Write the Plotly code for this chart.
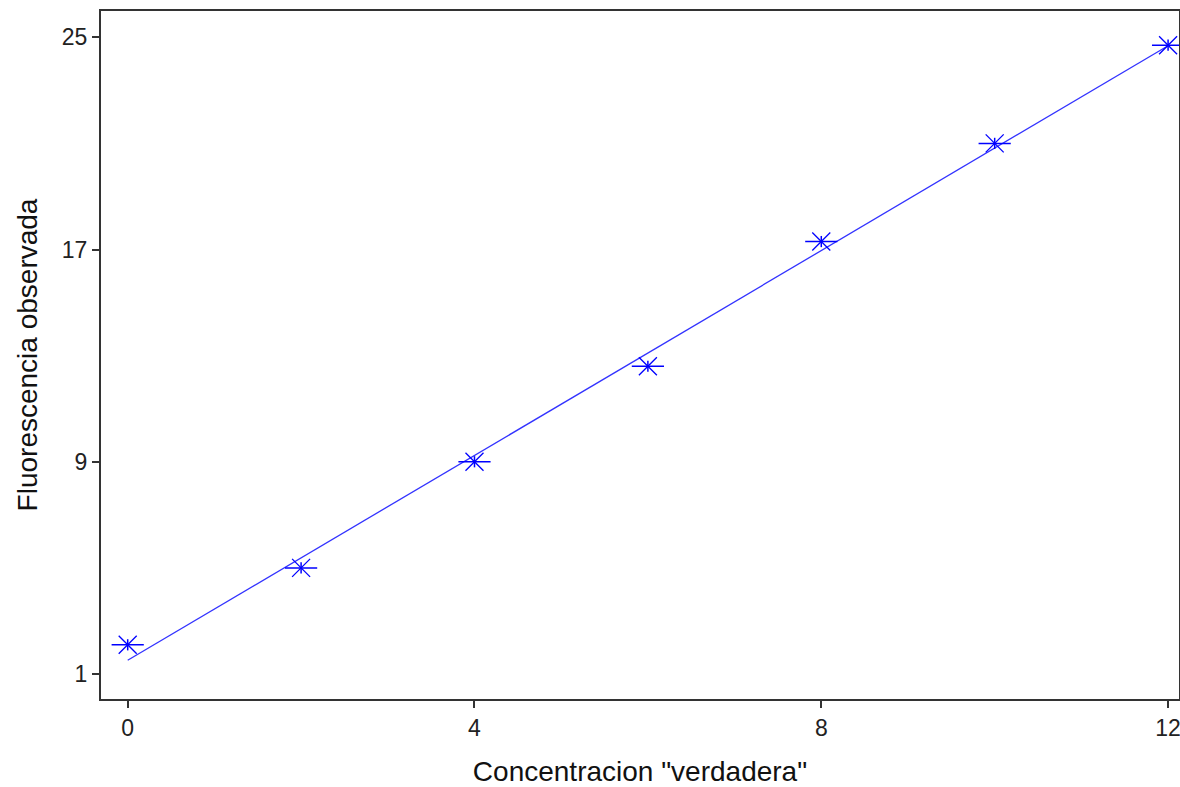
import numpy as np
import plotly.graph_objects as go

concentracion = [0, 2, 4, 6, 8, 10, 12]
fluorescencia = [2.1, 5.0, 9.0, 12.6, 17.3, 21.0, 24.7]
x_ticks = [0, 4, 8, 12]
y_ticks = [1, 9, 17, 25]

b, a = np.polyfit(concentracion, fluorescencia, 1)
x_line = [concentracion[0], concentracion[-1]]
y_line = [a + b * v for v in x_line]

fig = go.Figure()
fig.add_trace(go.Scatter(x=x_line, y=y_line, mode="lines",
                         line=dict(color="#3333ff", width=1.3), showlegend=False))
# asterisk marker: horizontal arm + diagonal arms + small vertical centre
fig.add_trace(go.Scatter(x=concentracion, y=fluorescencia, mode="markers",
                         marker=dict(symbol="line-ew-open", size=23, color="#0000ff",
                                     line=dict(color="#0000ff", width=1.5)),
                         showlegend=False, hoverinfo="skip"))
fig.add_trace(go.Scatter(x=concentracion, y=fluorescencia, mode="markers",
                         marker=dict(symbol="line-ns-open", size=8, color="#0000ff",
                                     line=dict(color="#0000ff", width=1.5)),
                         showlegend=False, hoverinfo="skip"))
fig.add_trace(go.Scatter(x=concentracion, y=fluorescencia, mode="markers",
                         marker=dict(symbol="x-thin-open", size=18, color="#0000ff",
                                     line=dict(color="#0000ff", width=1.3)),
                         showlegend=False))

axis_common = dict(showgrid=False, zeroline=False, showline=True, mirror=True,
                   linecolor="#333333", linewidth=2, ticks="outside", ticklen=7,
                   tickcolor="#333333", tickwidth=2, automargin=False,
                   ticklabeloverflow="allow",
                   tickfont=dict(family="Liberation Sans, Arial", size=23, color="#222222"))

title_font = dict(family="Liberation Sans, Arial", size=28, color="#111111")

fig.update_layout(
    width=1180, height=787,
    margin=dict(l=101, r=1, t=11, b=88),
    paper_bgcolor="white", plot_bgcolor="white",
    xaxis=dict(range=[-0.308, 12.126], tickvals=x_ticks,
               title=dict(text='Concentracion "verdadera"', font=title_font, standoff=23),
               **axis_common),
    yaxis=dict(range=[0.058, 25.99], tickvals=y_ticks,
               title=dict(text="Fluorescencia observada", font=title_font, standoff=16),
               **axis_common),
)

fig.write_html("out.html", config={"displayModeBar": False},
               post_script="document.body.style.margin='0';document.body.style.overflow='hidden';")
